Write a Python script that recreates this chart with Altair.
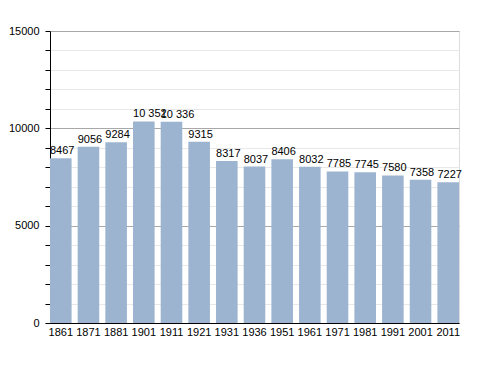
import altair as alt
import pandas as pd

years = ["1861", "1871", "1881", "1901", "1911", "1921", "1931", "1936",
         "1951", "1961", "1971", "1981", "1991", "2001", "2011"]
population = [8467, 9056, 9284, 10352, 10336, 9315, 8317, 8037,
              8406, 8032, 7785, 7745, 7580, 7358, 7227]
labels = ["8467", "9056", "9284", "10 352", "10 336", "9315", "8317", "8037",
          "8406", "8032", "7785", "7745", "7580", "7358", "7227"]

df = pd.DataFrame({"year": years, "pop": population, "label": labels})

FONT = "Liberation Sans"

x_axis = alt.Axis(labelAngle=0, ticks=False, domain=True, domainColor="#000",
                  labelPadding=3, labelFont=FONT, labelFontSize=11,
                  labelColor="#000", grid=False)
x_scale = alt.Scale(paddingInner=0.22, paddingOuter=0.0)
x = alt.X("year:N", sort=years, title=None, scale=x_scale, axis=x_axis)
x_text = alt.X("year:N", sort=years, title=None, scale=x_scale, axis=x_axis,
               bandPosition=0)
y = alt.Y("pop:Q", title=None,
          scale=alt.Scale(domain=[0, 15000], nice=False),
          axis=alt.Axis(values=list(range(0, 15001, 1000)),
                        labelExpr="datum.value % 5000 === 0 ? datum.value : ''",
                        domainColor="#000", tickColor="#000", tickSize=5,
                        labelPadding=6, labelFont=FONT, labelFontSize=11,
                        labelColor="#000", format="d",
                        gridColor={"condition": {"test": "datum.value % 5000 === 0",
                                                 "value": "#a8a8a8"},
                                   "value": "#e8e8e8"}))

bars = alt.Chart(df).mark_bar(color="#9cb4d0").encode(x=x, y=y)
text = alt.Chart(df).mark_text(baseline="bottom", align="left", dx=0, dy=-2,
                               font=FONT, fontSize=11, color="#000").encode(
    x=x_text, y=y, text="label:N")

chart = (bars + text).properties(
    width=409, height=292,
    autosize=alt.AutoSizeParams(type="none"),
    padding={"left": 42, "top": 23, "right": 21, "bottom": 42},
).configure_view(stroke=None).configure(background="white")

chart.save("out.html", embed_options={"renderer": "svg", "actions": False})
